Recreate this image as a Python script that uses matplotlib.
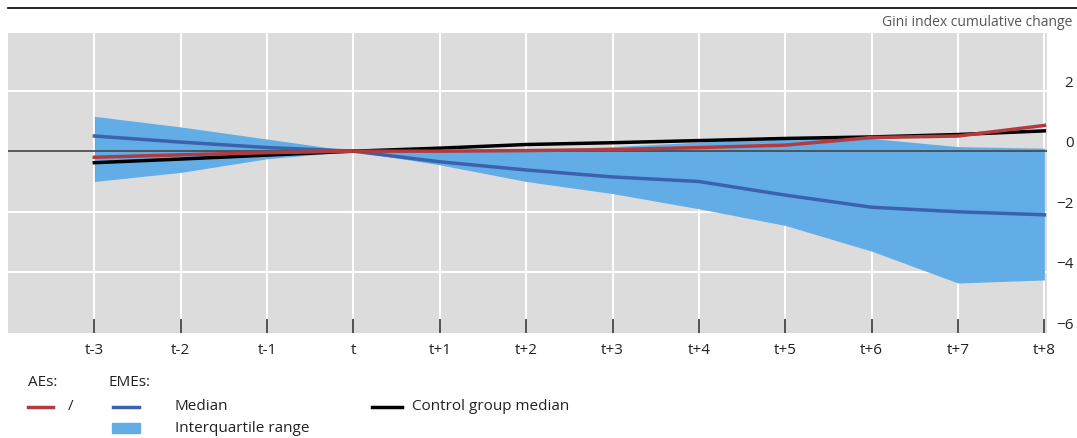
import numpy as np
import matplotlib.pyplot as plt
from matplotlib.lines import Line2D
from matplotlib.patches import Rectangle

plt.rcParams['font.family'] = ['Open Sans', 'DejaVu Sans']

periods = ['t-3', 't-2', 't-1', 't', 't+1', 't+2', 't+3', 't+4', 't+5', 't+6', 't+7', 't+8']
eme_median = [0.5, 0.3, 0.12, 0.0, -0.35, -0.62, -0.85, -1.0, -1.45, -1.85, -2.0, -2.1]
eme_q75 = [1.15, 0.8, 0.4, 0.0, 0.0, 0.05, 0.15, 0.3, 0.45, 0.42, 0.15, 0.1]
eme_q25 = [-1.0, -0.7, -0.25, 0.0, -0.45, -1.0, -1.4, -1.9, -2.45, -3.3, -4.35, -4.25]
ae_median = [-0.2, -0.12, -0.05, 0.0, 0.0, 0.02, 0.05, 0.12, 0.2, 0.45, 0.5, 0.85]
control_median = [-0.38, -0.26, -0.13, 0.0, 0.1, 0.22, 0.28, 0.35, 0.42, 0.47, 0.55, 0.67]
yticks = [2, 0, -2, -4, -6]

bg = '#dcdcdc'
band_col = '#62ade6'
blue = '#3c62ad'
red = '#b33b3d'
text_col = '#222222'

x = np.arange(len(periods))

fig = plt.figure(figsize=(10.77, 4.38), dpi=100)
ax = fig.add_axes([8/1077, 105/438, 1039/1077, 300/438])
ax.set_facecolor(bg)

ax.fill_between(x, eme_q25, eme_q75, color=band_col, lw=0, zorder=2)
ax.axhline(0, color='#444444', lw=1.2, zorder=3)
ax.plot(x, eme_median, color=blue, lw=2.5, zorder=4)
ax.plot(x, control_median, color='black', lw=2.5, zorder=5)
ax.plot(x, ae_median, color=red, lw=2.5, zorder=6)

ax.set_xlim(-1, len(periods) - 1 + 0.03)
ax.set_ylim(-5.95, 3.9)

ax.set_xticks(x)
ax.set_xticklabels(periods, fontsize=11, color=text_col)
ax.tick_params(axis='x', direction='in', length=10, width=1.3, color='#444444', pad=7)
for xi in x:
    ax.axvline(xi, color='white', lw=1.5, zorder=1)
for yi in [2, -2, -4]:
    ax.axhline(yi, color='white', lw=1.5, zorder=1)

ax.yaxis.tick_right()
ax.set_yticks(yticks)
ax.set_yticklabels([str(v).replace('-', '\u2212') for v in yticks], fontsize=11, color=text_col)
ax.tick_params(axis='y', length=0, pad=19)
plt.setp(ax.get_yticklabels(), ha='right', va='bottom')

for s in ax.spines.values():
    s.set_visible(False)

fig.text(1072/1077, 1 - 22/438, 'Gini index cumulative change', ha='right', va='center',
         fontsize=10, color='#555555')
fig.add_artist(Line2D([8/1077, 1.0], [1 - 8/438, 1 - 8/438], color='black', lw=1.2))

# legend
def fx(px):
    return px / 1077

def fy(py):
    return 1 - py / 438

fig.text(fx(28), fy(383), 'AEs:', fontsize=11, va='center', color=text_col)
fig.text(fx(108), fy(383), 'EMEs:', fontsize=11, va='center', color=text_col)
fig.add_artist(Line2D([fx(28), fx(53)], [fy(407), fy(407)], color=red, lw=2.5))
fig.text(fx(68), fy(407), '/', fontsize=11, va='center', color=text_col)
fig.add_artist(Line2D([fx(113), fx(139)], [fy(407), fy(407)], color=blue, lw=2.5))
fig.text(fx(175), fy(407), 'Median', fontsize=11, va='center', color=text_col)
fig.add_artist(Rectangle((fx(112), fy(433)), fx(28), 10/438, color=band_col, transform=fig.transFigure))
fig.text(fx(175), fy(428), 'Interquartile range', fontsize=11, va='center', color=text_col)
fig.add_artist(Line2D([fx(372), fx(402)], [fy(407), fy(407)], color='black', lw=2.5))
fig.text(fx(412), fy(407), 'Control group median', fontsize=11, va='center', color=text_col)

fig.savefig('out.png', dpi=100)
